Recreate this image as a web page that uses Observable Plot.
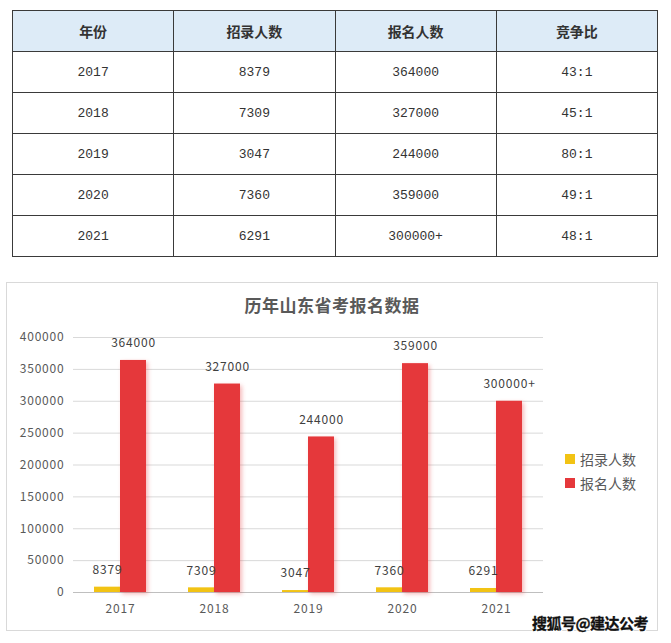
<!DOCTYPE html>
<html>
<head>
<meta charset="utf-8">
<script src="https://cdn.jsdelivr.net/npm/d3@7"></script>
<script src="https://cdn.jsdelivr.net/npm/@observablehq/plot@0.6"></script>
<style>
  html, body { margin: 0; padding: 0; background: #fff; }
  body { width: 671px; height: 643px; position: relative; overflow: hidden; font-family: "Noto Sans CJK SC", sans-serif; }
  #tbl { position: absolute; left: 12px; top: 10px; width: 646px; border-collapse: collapse; table-layout: fixed; }
  #tbl th, #tbl td { border: 1px solid #3a3a3a; text-align: center; height: 40px; padding: 0; }
  #tbl th { background: #ddebf7; font-weight: bold; font-size: 14px; color: #333; }
  #tbl td { font-family: "Liberation Mono", "Noto Sans CJK SC", monospace; font-size: 13px; color: #333; }
  #box { position: absolute; left: 6px; top: 282px; width: 652px; height: 349px; border: 1px solid #d9d9d9; box-sizing: border-box; }
  #title { position: absolute; left: 0; width: 664px; top: 292px; text-align: center; font-size: 17px; font-weight: bold; color: #595959; letter-spacing: 0.5px; }
  #chart { position: absolute; left: 0; top: 320px; }
  #legend { position: absolute; left: 565px; top: 447px; font-size: 14px; color: #595959; }
  #legend div { height: 24px; line-height: 20px; display: flex; align-items: center; }
  #legend span.sw { display: inline-block; width: 10px; height: 10px; margin-right: 5px; }
  #wm { position: absolute; left: 532px; top: 612px; font-size: 15px; font-weight: bold; color: #111; -webkit-text-stroke: 0.3px #111; text-shadow: 1px 1px 0 #fff, -1px -1px 0 #fff, 1px -1px 0 #fff, -1px 1px 0 #fff; letter-spacing: -0.5px; }
  #chart rect.red { filter: drop-shadow(2px 2px 2px rgba(229,56,59,0.35)); }
</style>
</head>
<body>
<table id="tbl"></table>
<div id="box"></div>
<div id="title">历年山东省考报名数据</div>
<div id="chart"></div>
<div id="legend"></div>
<div id="wm">搜狐号@建达公考</div>
<script>
const headers = ["年份", "招录人数", "报名人数", "竞争比"];
const years = ["2017", "2018", "2019", "2020", "2021"];
const hired = [8379, 7309, 3047, 7360, 6291];
const applicants = [364000, 327000, 244000, 359000, 300000];
const applicantLabels = ["364000", "327000", "244000", "359000", "300000+"];
const ratios = ["43:1", "45:1", "80:1", "49:1", "48:1"];
const seriesNames = ["招录人数", "报名人数"];
const seriesColors = ["#f2c314", "#e5383b"];
const yTicks = [0, 50000, 100000, 150000, 200000, 250000, 300000, 350000, 400000];

// Table
const tbl = document.getElementById("tbl");
let html = "<tr>" + headers.map(h => `<th>${h}</th>`).join("") + "</tr>";
years.forEach((y, i) => {
  html += `<tr><td>${y}</td><td>${hired[i]}</td><td>${applicantLabels[i]}</td><td>${ratios[i]}</td></tr>`;
});
tbl.innerHTML = html;

// Chart data
const data = [];
years.forEach((y, i) => {
  data.push({year: y, series: seriesNames[0], value: hired[i], label: String(hired[i])});
  data.push({year: y, series: seriesNames[1], value: applicants[i], label: applicantLabels[i]});
});

const chart = Plot.plot({
  width: 560,
  height: 320,
  marginLeft: 72,
  marginRight: 17,
  marginTop: 17,
  marginBottom: 48,
  style: {fontFamily: "'Noto Sans CJK SC', sans-serif", fontSize: "12px", color: "#595959", background: "transparent"},
  fx: {domain: years, padding: 0, label: null},
  x: {domain: seriesNames, paddingInner: 0, paddingOuter: 0.745, axis: null},
  y: {domain: [0, 400000], label: null},
  color: {domain: seriesNames, range: seriesColors},
  marks: [
    Plot.gridY(yTicks, {stroke: "#d9d9d9", strokeOpacity: 1}),
    Plot.ruleY([0], {stroke: "#bfbfbf"}),
    Plot.barY(data, {fx: "year", x: "series", y: "value", fill: "series"}),
    Plot.text(data, {fx: "year", x: "series", y: "value", text: "label", dy: -17, fill: "#404040", fontSize: 12, lineAnchor: "middle"}),
    Plot.axisY({ticks: yTicks, tickSize: 0, tickPadding: 9, tickFormat: d3.format("d"), label: null, fill: "#595959", fontSize: 12}),
    Plot.axisFx({anchor: "bottom", tickSize: 0, tickPadding: 12, label: null, fill: "#595959", fontSize: 12})
  ]
});
document.getElementById("chart").appendChild(chart);
chart.querySelectorAll("rect").forEach(r => {
  if ((r.getAttribute("fill") || "").toLowerCase() === seriesColors[1]) r.classList.add("red");
});
chart.querySelectorAll("text").forEach(t => t.style.letterSpacing = "0.8px");

// Legend
document.getElementById("legend").innerHTML = seriesNames.map((n, i) =>
  `<div><span class="sw" style="background:${seriesColors[i]}"></span>${n}</div>`).join("");
</script>
</body>
</html>
